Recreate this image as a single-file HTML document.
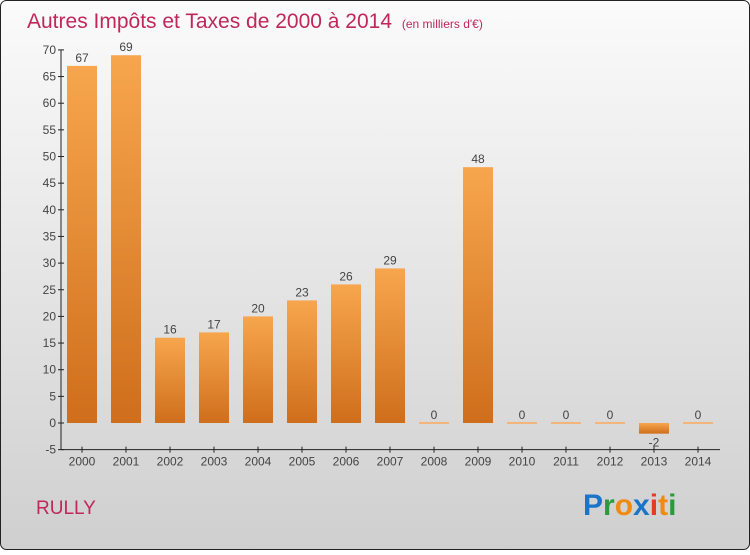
<!DOCTYPE html>
<html><head><meta charset="utf-8"><style>
body{margin:0;width:750px;height:550px;overflow:hidden;font-family:"Liberation Sans",sans-serif}
</style></head><body>
<svg width="750" height="550" xmlns="http://www.w3.org/2000/svg">
<defs>
<linearGradient id="bg" x1="0" y1="0" x2="0" y2="1"><stop offset="0" stop-color="#fbfbfb"/><stop offset="1" stop-color="#cfcfcf"/></linearGradient>
<linearGradient id="bar" x1="0" y1="0" x2="0" y2="1"><stop offset="0" stop-color="#f7a64e"/><stop offset="1" stop-color="#cf6e1c"/></linearGradient>
</defs>
<rect x="0.5" y="0.5" width="749" height="549" rx="6" fill="url(#bg)" stroke="#222"/>
<text x="27" y="28" font-size="21" fill="#c0275a">Autres Impôts et Taxes de 2000 à 2014 <tspan font-size="12" dx="4">(en milliers d'€)</tspan></text>
<g id="axes"></g>
<g id="bars"></g>
<text x="36" y="514" font-size="19" fill="#c0275a">RULLY</text>
<g font-size="30" font-weight="bold" font-family="'Liberation Sans',sans-serif">
<text x="583" y="515"><tspan fill="#1a75c9">P</tspan><tspan fill="#2a9a3a">r</tspan><tspan fill="#f08a10">o</tspan><tspan fill="#1a75c9">x</tspan><tspan fill="#e83a20">i</tspan><tspan fill="#f08a10">t</tspan><tspan fill="#2a9a3a">i</tspan></text>
</g>
</svg>
<script>
const years=["2000","2001","2002","2003","2004","2005","2006","2007","2008","2009","2010","2011","2012","2013","2014"];
const values=[67,69,16,17,20,23,26,29,0,48,0,0,0,-2,0];
const yTicks=[-5,0,5,10,15,20,25,30,35,40,45,50,55,60,65,70];
const NS="http://www.w3.org/2000/svg";
const y=v=>423-v*5.33;
const x=i=>82+i*44;
function mk(t,a,p){const e=document.createElementNS(NS,t);for(const k in a)e.setAttribute(k,a[k]);p.appendChild(e);return e;}
const ax=document.getElementById('axes'),bg=document.getElementById('bars');
let l=mk('line',{x1:61,y1:y(70),x2:61,y2:y(-5),stroke:'#222'},ax);


l=mk('line',{x1:61,y1:y(-5),x2:720,y2:y(-5),stroke:'#222'},ax);


yTicks.forEach(v=>{mk('line',{x1:58,x2:64,y1:y(v),y2:y(v),stroke:'#222'},ax);
const t=mk('text',{x:56,y:y(v)+4,'text-anchor':'end','font-size':12,fill:'#444'},ax);t.textContent=v;

});
years.forEach((yr,i)=>{mk('line',{x1:x(i),x2:x(i),y1:y(-5)-3,y2:y(-5)+3,stroke:'#222'},ax);
const t=mk('text',{x:x(i),y:y(-5)+16,'text-anchor':'middle','font-size':12,fill:'#444'},ax);t.textContent=yr;


const v=values[i];
const top=Math.min(y(v),y(0)),h=Math.max(Math.abs(y(v)-y(0)),2);
const r=mk('rect',{x:x(i)-15,y:v===0?y(0)-1:top,width:30,height:h,fill:v===0?'#f3b57a':'url(#bar)'},bg);


const lb=mk('text',{x:x(i),y:v>=0?top-4:y(v)+13,'text-anchor':'middle','font-size':12,fill:'#444'},bg);lb.textContent=v;

});
</script>
</body></html>
